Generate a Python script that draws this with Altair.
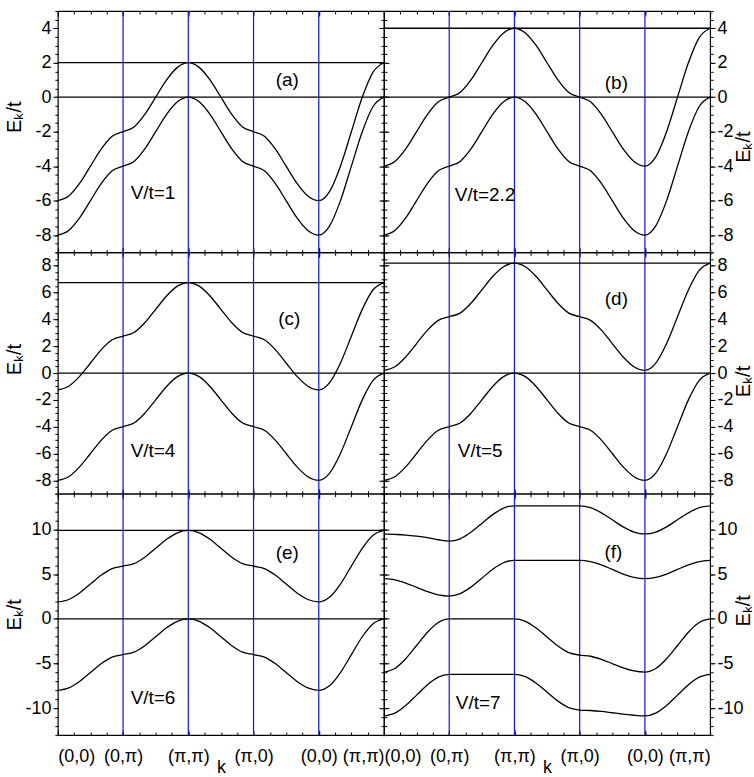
import json
import altair as alt
import pandas as pd

# k-path positions (0,0)->(0,pi)->(pi,pi)->(pi,0)->(0,0)->(pi,pi), one unit per segment
K = [0, 0.167, 0.333, 0.5, 0.667, 0.833,
     1, 1.167, 1.333, 1.5, 1.667, 1.833,
     2, 2.167, 2.333, 2.5, 2.667, 2.833,
     3, 3.167, 3.333, 3.5, 3.667, 3.833,
     4, 4.167, 4.333, 4.5, 4.667, 4.833, 5]

# lower band shared by panels (a)-(e)
LOWER = [-8, -7.73, -7, -6, -5, -4.27, -4, -3.73, -3, -2, -1, -0.27, 0,
         -0.27, -1, -2, -3, -3.73, -4, -4.27, -5, -6, -7, -7.73, -8,
         -7.46, -6, -4, -2, -0.54, 0]
UPPER_A = [-6, -5.73, -5, -4, -3, -2.27, -2, -1.73, -1, 0, 1, 1.73, 2,
           1.73, 1, 0, -1, -1.73, -2, -2.27, -3, -4, -5, -5.73, -6,
           -5.46, -4, -2, 0, 1.46, 2]
UPPER_B = [-4, -3.73, -3, -2, -1, -0.27, 0, 0.27, 1, 2, 3, 3.73, 4,
           3.73, 3, 2, 1, 0.27, 0, -0.27, -1, -2, -3, -3.73, -4,
           -3.46, -2, 0, 2, 3.46, 4]
UPPER_C = [-1.25, -0.98, -0.25, 0.75, 1.75, 2.48, 2.75, 3.02, 3.75, 4.75, 5.75, 6.48, 6.75,
           6.48, 5.75, 4.75, 3.75, 3.02, 2.75, 2.48, 1.75, 0.75, -0.25, -0.98, -1.25,
           -0.71, 0.75, 2.75, 4.75, 6.21, 6.75]
UPPER_D = [0.2, 0.47, 1.2, 2.2, 3.2, 3.93, 4.2, 4.47, 5.2, 6.2, 7.2, 7.93, 8.2,
           7.93, 7.2, 6.2, 5.2, 4.47, 4.2, 3.93, 3.2, 2.2, 1.2, 0.47, 0.2,
           0.74, 2.2, 4.2, 6.2, 7.66, 8.2]
UPPER_E = [1.9, 2.17, 2.9, 3.9, 4.9, 5.63, 5.9, 6.17, 6.9, 7.9, 8.9, 9.63, 9.9,
           9.63, 8.9, 7.9, 6.9, 6.17, 5.9, 5.63, 4.9, 3.9, 2.9, 2.17, 1.9,
           2.44, 3.9, 5.9, 7.9, 9.36, 9.9]
# panel (f): four bands
F_BAND1 = [9.5, 9.45, 9.38, 9.25, 9.08, 8.85, 8.7, 8.96, 9.69, 10.68, 11.66, 12.39, 12.65,
           12.65, 12.65, 12.65, 12.65, 12.65, 12.65, 12.44, 11.86, 11.08, 10.29, 9.71, 9.5,
           9.71, 10.29, 11.08, 11.86, 12.44, 12.65]
F_BAND2 = [4.5, 4.37, 4.01, 3.53, 3.04, 2.68, 2.55, 2.82, 3.55, 4.55, 5.55, 6.28, 6.55,
           6.55, 6.55, 6.55, 6.55, 6.55, 6.55, 6.41, 6.04, 5.53, 5.01, 4.64, 4.5,
           4.64, 5.01, 5.53, 6.04, 6.41, 6.55]
F_BAND3 = [-5.95, -5.55, -4.46, -2.98, -1.49, -0.4, 0, 0, 0, 0, 0, 0, 0,
           -0.27, -1.01, -2.03, -3.04, -3.78, -4.05, -4.18, -4.53, -5.0, -5.48, -5.82, -5.95,
           -5.55, -4.46, -2.98, -1.49, -0.4, 0]
F_BAND4 = [-10.85, -10.54, -9.69, -8.53, -7.36, -6.51, -6.2, -6.2, -6.2, -6.2, -6.2, -6.2, -6.2,
           -6.47, -7.2, -8.2, -9.2, -9.93, -10.2, -10.25, -10.35, -10.5, -10.65, -10.78, -10.85,
           -10.54, -9.69, -8.53, -7.36, -6.51, -6.2]

HLINES_A = [2, 0]
HLINES_B = [4, 0]
HLINES_C = [6.75, 0]
HLINES_D = [8.2, 0]
HLINES_E = [9.9, 0]
HLINES_F = []

KVERT = [1, 2, 3, 4]
KLABELS = ["(0,0)", "(0,π)", "(π,π)", "(π,0)", "(0,0)", "(π,π)"]
XMAJOR = [0, 1, 2, 3, 4, 5]
XMINOR = [i / 4 for i in range(21)]

YMAJ_AB = [-8, -6, -4, -2, 0, 2, 4]
YMIN_AB = [i / 2 for i in range(-18, 11)]
YMAJ_CD = [-8, -6, -4, -2, 0, 2, 4, 6, 8]
YMIN_CD = [i / 2 for i in range(-18, 19)]
YMAJ_EF = [-10, -5, 0, 5, 10]
YMIN_EF = list(range(-13, 15))

LETTERS = ["(a)", "(b)", "(c)", "(d)", "(e)", "(f)"]
VLABELS = ["V/t=1", "V/t=2.2", "V/t=4", "V/t=5", "V/t=6", "V/t=7"]
YTITLE = "Eₖ/t"

PANELS = [
    dict(bands=[UPPER_A, LOWER], hl=HLINES_A, ydom=[-9, 5], ymaj=YMAJ_AB, ymin=YMIN_AB,
         lp=(230, 69), vp=(73, 182), ty=106),
    dict(bands=[UPPER_B, LOWER], hl=HLINES_B, ydom=[-9, 5], ymaj=YMAJ_AB, ymin=YMIN_AB,
         lp=(233, 72), vp=(71, 184), ty=136),
    dict(bands=[UPPER_C, LOWER], hl=HLINES_C, ydom=[-9, 9], ymaj=YMAJ_CD, ymin=YMIN_CD,
         lp=(232, 67), vp=(73, 199), ty=107),
    dict(bands=[UPPER_D, LOWER], hl=HLINES_D, ydom=[-9, 9], ymaj=YMAJ_CD, ymin=YMIN_CD,
         lp=(233, 47), vp=(74, 199), ty=129),
    dict(bands=[UPPER_E, LOWER], hl=HLINES_E, ydom=[-13, 14], ymaj=YMAJ_EF, ymin=YMIN_EF,
         lp=(230, 59), vp=(73, 205), ty=121),
    dict(bands=[F_BAND1, F_BAND2, F_BAND3, F_BAND4], hl=HLINES_F, ydom=[-13, 14],
         ymaj=YMAJ_EF, ymin=YMIN_EF, lp=(230, 58), vp=(72, 210), ty=117),
]

FONT = "Liberation Sans"
FS = 18
PW, PH = 327, 242
LABEL_EXPR = json.dumps(KLABELS, ensure_ascii=False) + "[datum.value]"


def make_panel(i, p):
    col = i % 2
    bottom = i >= 4
    side = "left" if col == 0 else "right"
    other = "right" if col == 0 else "left"
    xs = alt.Scale(domain=[0, 5], nice=False, zero=False)
    ys = alt.Scale(domain=p["ydom"], nice=False, zero=False)

    rows = []
    for bi, band in enumerate(p["bands"]):
        for kx, ev in zip(K, band):
            rows.append({"k": kx, "E": ev, "band": bi})
    df = pd.DataFrame(rows)

    xkw = dict(orient="bottom", values=XMAJOR, offset=-5, tickSize=5, domain=False,
               grid=False, labels=bottom, tickColor="black")
    if bottom:
        xkw.update(labelExpr=LABEL_EXPR, labelPadding=12, title="k", titlePadding=-6,
                   titleFontSize=18, labelOverlap=False, labelFlush=True)
    else:
        xkw["title"] = None
    ykw = dict(orient=side, values=p["ymaj"], tickSize=5, domain=False, grid=False,
               labelExpr="'' + datum.value", labelPadding=2, title=YTITLE,
               titleAngle=270, titleX=-33 if col == 0 else 43, titleY=p["ty"])

    curves = alt.Chart(df).mark_line(color="black", strokeWidth=1.3,
                                     interpolate="monotone").encode(
        x=alt.X("k:Q", scale=xs, axis=alt.Axis(**xkw)),
        y=alt.Y("E:Q", scale=ys, axis=alt.Axis(**ykw)),
        detail="band:N",
    )

    def carrier(xaxis, yaxis):
        return alt.Chart(df).mark_line(opacity=0).encode(
            x=alt.X("k:Q", scale=xs, axis=xaxis),
            y=alt.Y("E:Q", scale=ys, axis=yaxis),
            detail="band:N",
        )

    c1 = carrier(
        alt.Axis(orient="bottom", values=XMINOR, offset=-3, tickSize=3, domain=False,
                 labels=False, grid=False, title=None),
        alt.Axis(orient=side, values=p["ymin"], tickSize=3, domain=False,
                 labels=False, grid=False, title=None),
    )
    c2 = carrier(
        alt.Axis(orient="top", values=XMAJOR, offset=-5, tickSize=5, domain=False,
                 labels=False, grid=False, title=None),
        alt.Axis(orient=other, values=p["ymaj"], offset=-5, tickSize=5, domain=False,
                 labels=False, grid=False, title=None),
    )
    c3 = carrier(
        alt.Axis(orient="top", values=XMINOR, offset=-3, tickSize=3, domain=False,
                 labels=False, grid=False, title=None),
        alt.Axis(orient=other, values=p["ymin"], offset=-3, tickSize=3, domain=False,
                 labels=False, grid=False, title=None),
    )

    vr = alt.Chart(pd.DataFrame({"k": KVERT})).mark_rule(
        color="#1010ff", strokeWidth=1.2).encode(
        x=alt.X("k:Q", scale=xs, axis=None))

    layers = [vr]
    if p["hl"]:
        hl = alt.Chart(pd.DataFrame({"E": p["hl"]})).mark_rule(
            color="black", strokeWidth=1.3).encode(
            y=alt.Y("E:Q", scale=ys, axis=None))
        layers.append(hl)
    layers += [curves, c1, c2, c3]

    t1 = alt.Chart(pd.DataFrame({"t": [LETTERS[i]]})).mark_text(
        font=FONT, fontSize=FS + 1, align="center", baseline="middle", color="black").encode(
        x=alt.value(p["lp"][0]), y=alt.value(p["lp"][1]), text="t:N")
    t2 = alt.Chart(pd.DataFrame({"t": [VLABELS[i]]})).mark_text(
        font=FONT, fontSize=FS + 1, align="left", baseline="middle", color="black").encode(
        x=alt.value(p["vp"][0]), y=alt.value(p["vp"][1]), text="t:N")
    layers += [t1, t2]

    return alt.layer(*layers).resolve_axis(x="independent", y="independent").properties(
        width=PW, height=PH)


charts = [make_panel(i, p) for i, p in enumerate(PANELS)]

chart = alt.concat(*charts, columns=2, spacing=0, bounds="flush").configure_view(
    stroke="black", strokeWidth=1.2
).configure_axis(
    labelFont=FONT, labelFontSize=FS, labelColor="black",
    titleFont=FONT, titleFontSize=20, titleColor="black", titleFontWeight="normal",
    tickColor="black", tickWidth=1,
).properties(
    background="white",
    padding={"left": 4, "top": 8, "right": 0, "bottom": 0},
)

chart.save("out.html", embed_options={"renderer": "svg", "actions": False})
